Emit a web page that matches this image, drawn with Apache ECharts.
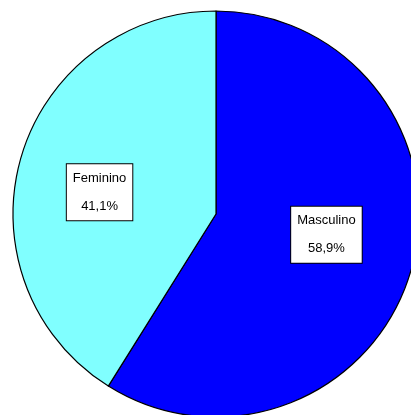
<!DOCTYPE html>
<html>
<head>
<meta charset="utf-8">
<script src="https://cdn.jsdelivr.net/npm/echarts@6/dist/echarts.min.js"></script>
<style>
  html, body { margin: 0; padding: 0; background: #fff; }
  #main { width: 411px; height: 415px; }
</style>
</head>
<body>
<div id="main"></div>
<script>
// dados do gráfico
var categories = ['Masculino', 'Feminino'];
var values = [58.9, 41.1];
var colors = ['#0000ff', '#80ffff'];
// ajuste fino das caixas de rótulo
var labelOffsets = [[10, -8], [-16, 7]];

var myChart = echarts.init(document.getElementById('main'));

myChart.setOption({
    backgroundColor: '#ffffff',
    animation: false,
    series: [
        {
            name: 'Sexo',
            type: 'pie',
            center: [216, 214],
            radius: 203,
            startAngle: 90,
            clockwise: true,
            color: colors,
            itemStyle: {
                borderColor: '#000',
                borderWidth: 1.2
            },
            label: {
                show: true,
                position: 'inside',
                formatter: function (p) {
                    return p.name + '\n' + p.value.toFixed(1).replace('.', ',') + '%';
                },
                fontFamily: 'Liberation Sans, Arial, sans-serif',
                fontSize: 13,
                color: '#000',
                lineHeight: 28,
                backgroundColor: '#fff',
                borderColor: '#000',
                borderWidth: 1,
                padding: [0, 6, 0, 6],
                align: 'center'
            },
            labelLine: { show: false },
            emphasis: { disabled: true },
            data: categories.map(function (c, i) {
                return {
                    name: c,
                    value: values[i],
                    label: { offset: labelOffsets[i] }
                };
            })
        }
    ]
});
</script>
</body>
</html>
